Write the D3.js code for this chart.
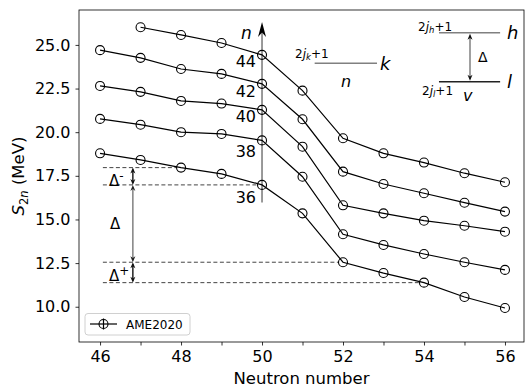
<!DOCTYPE html>
<html>
<head>
<meta charset="utf-8">
<script src="https://cdn.jsdelivr.net/npm/d3@7"></script>
<style>
  body { margin: 0; background: #fff; }
  svg text { font-family: "DejaVu Sans", sans-serif; fill: #000; }
</style>
</head>
<body>
<svg id="chart" width="525" height="388"></svg>
<script>
// neutron numbers on the x axis
const neutrons = [46, 47, 48, 49, 50, 51, 52, 53, 54, 55, 56];
// proton number of each isotopic chain
const chains = [36, 38, 40, 42, 44];
// two-neutron separation energies (MeV), AME2020
const s2n36 = [18.79, 18.41, 17.97, 17.61, 16.98, 15.35, 12.55, 11.93, 11.38, 10.56, 9.93];
const s2n38 = [20.76, 20.43, 20.00, 19.90, 19.53, 17.45, 14.15, 13.54, 13.02, 12.55, 12.11];
const s2n40 = [22.65, 22.31, 21.79, 21.64, 21.28, 19.17, 15.81, 15.35, 14.93, 14.64, 14.30];
const s2n42 = [24.70, 24.26, 23.62, 23.34, 22.77, 20.74, 17.74, 17.03, 16.50, 15.96, 15.45];
const s2n44 = [null, 26.01, 25.57, 25.11, 24.43, 22.38, 19.65, 18.79, 18.26, 17.65, 17.13];
const xTickLabels = [46, 48, 50, 52, 54, 56];
const yTickLabels = [10.0, 12.5, 15.0, 17.5, 20.0, 22.5, 25.0];

const series = [s2n36, s2n38, s2n40, s2n42, s2n44];

const svg = d3.select("#chart");
const pLeft = 79, pRight = 524, pTop = 10, pBottom = 342;

const x = d3.scaleLinear().domain([45.48, 56.47]).range([pLeft, pRight]);
const y = d3.scaleLinear().domain([7.98, 27.0]).range([pBottom, pTop]);

// axes
const xAxis = svg.append("g")
  .attr("transform", "translate(0," + pBottom + ")")
  .call(d3.axisBottom(x).tickValues(neutrons).tickSize(3.5).tickPadding(5)
    .tickFormat(d => xTickLabels.includes(d) ? d : ""));
const yAxis = svg.append("g")
  .attr("transform", "translate(" + pLeft + ",0)")
  .call(d3.axisLeft(y).tickValues(yTickLabels).tickSize(3.5).tickPadding(5)
    .tickFormat(d3.format(".1f")));
[xAxis, yAxis].forEach(g => {
  g.select(".domain").remove();
  g.selectAll("line").attr("stroke", "#000").attr("stroke-width", 0.8);
  g.selectAll("text").attr("font-size", 16).attr("font-family", "DejaVu Sans").attr("fill", "#000");
});

svg.append("rect")
  .attr("x", pLeft).attr("y", pTop)
  .attr("width", pRight - pLeft).attr("height", pBottom - pTop)
  .attr("fill", "none").attr("stroke", "#000").attr("stroke-width", 0.8);

// axis titles
svg.append("text")
  .attr("x", (pLeft + pRight) / 2).attr("y", 384)
  .attr("text-anchor", "middle").attr("font-size", 16.5)
  .text("Neutron number");

const yl = svg.append("text")
  .attr("transform", "translate(24," + ((pTop + pBottom) / 2) + ") rotate(-90)")
  .attr("text-anchor", "middle").attr("font-size", 16.5);
yl.append("tspan").attr("font-style", "italic").text("S");
yl.append("tspan").attr("font-size", 11.5).attr("dy", 4).text("2");
yl.append("tspan").attr("font-size", 11.5).attr("font-style", "italic").text("n");
yl.append("tspan").attr("dy", -4).text(" (MeV)");

// helpers for arrowheads
function head(g, px, py, dir, len, wid, color) {
  // dir = -1 points up, +1 points down
  const b = py - dir * len;
  g.append("path")
    .attr("d", "M" + px + "," + py +
      "L" + (px - wid / 2) + "," + b +
      "L" + px + "," + (py - dir * len * 0.7) +
      "L" + (px + wid / 2) + "," + b + "Z")
    .attr("fill", color);
}
function dblArrow(g, px, y1, y2, lineColor, headColor) {
  g.append("line").attr("x1", px).attr("x2", px)
    .attr("y1", y1 + 2).attr("y2", y2 - 2)
    .attr("stroke", lineColor).attr("stroke-width", 1.5);
  head(g, px, y1, -1, 6, 5, headColor);
  head(g, px, y2, 1, 6, 5, headColor);
}

const ann = svg.append("g");

// dashed reference levels
const dashFrom = 46.07;
const dashLevels = [[s2n36[2], 48], [s2n36[4], 50], [s2n36[6], 52], [s2n36[8], 54]];
dashLevels.forEach(([v, n]) => {
  ann.append("line")
    .attr("x1", x(dashFrom)).attr("x2", x(n) - 4)
    .attr("y1", y(v)).attr("y2", y(v))
    .attr("stroke", "#444").attr("stroke-width", 1).attr("stroke-dasharray", "4,2.5");
});

// gap arrows
const ax = x(46.81);
dblArrow(ann, ax, y(s2n36[2]), y(s2n36[4]), "#222", "#111");
dblArrow(ann, ax, y(s2n36[4]), y(s2n36[6]), "#808080", "#222");
dblArrow(ann, ax, y(s2n36[6]), y(s2n36[8]), "#222", "#111");

function deltaLabel(px, py, sup) {
  const t = ann.append("text").attr("x", px).attr("y", py).attr("font-size", 15);
  t.append("tspan").text("Δ");
  if (sup) t.append("tspan").attr("font-size", 12).attr("dy", -6).text(sup);
}
deltaLabel(109, 186, "-");
deltaLabel(110, 229, null);
deltaLabel(109, 281, "+");

// vertical arrow at N = 50
const x50 = x(50);
ann.append("line").attr("x1", x50).attr("x2", x50)
  .attr("y1", y(15.97)).attr("y2", 32)
  .attr("stroke", "#808080").attr("stroke-width", 1.6);
head(ann, x50, 22, -1, 15, 8, "#000");
ann.append("text").attr("x", 241).attr("y", 39)
  .attr("font-size", 17).attr("font-style", "italic").text("n");

// proton-number labels below N = 50 points
const labelDrop = [18, 16.5, 12.5, 13.5, 12.5];
chains.forEach((z, i) => {
  ann.append("text")
    .attr("x", x50 - 6).attr("y", y(series[i][4]) + labelDrop[i])
    .attr("text-anchor", "end").attr("font-size", 16)
    .text(z);
});

// data lines and markers
const line = d3.line()
  .defined(d => d[1] != null)
  .x(d => x(d[0])).y(d => y(d[1]));
const plot = svg.append("g");
series.forEach(s => {
  const pts = neutrons.map((n, i) => [n, s[i]]);
  plot.append("path").datum(pts)
    .attr("d", line).attr("fill", "none")
    .attr("stroke", "#000").attr("stroke-width", 1.2);
  plot.selectAll(null).data(pts.filter(d => d[1] != null)).enter()
    .append("circle")
    .attr("cx", d => x(d[0])).attr("cy", d => y(d[1])).attr("r", 4.5)
    .attr("fill", "none").attr("stroke", "#000").attr("stroke-width", 1.1);
});

// level scheme inset: k
function jLabel(g, px, py, sub) {
  const t = g.append("text").attr("x", px).attr("y", py).attr("font-size", 12);
  t.append("tspan").text("2");
  t.append("tspan").attr("font-style", "italic").text("j");
  t.append("tspan").attr("font-style", "italic").attr("font-size", 8.5).attr("dy", 2).text(sub);
  t.append("tspan").attr("dy", -2).text("+1");
}
const ins = svg.append("g");
ins.append("line").attr("x1", x(51.3)).attr("x2", x(52.84))
  .attr("y1", y(23.95)).attr("y2", y(23.95))
  .attr("stroke", "#808080").attr("stroke-width", 1.5);
jLabel(ins, 295, 58, "k");
ins.append("text").attr("x", 380).attr("y", 70).attr("font-size", 18).attr("font-style", "italic").text("k");
ins.append("text").attr("x", 341).attr("y", 87).attr("font-size", 16).attr("font-style", "italic").text("n");

// level scheme inset: h / l
ins.append("line").attr("x1", x(54.37)).attr("x2", x(55.88))
  .attr("y1", y(25.7)).attr("y2", y(25.7))
  .attr("stroke", "#808080").attr("stroke-width", 1.5);
ins.append("line").attr("x1", x(54.37)).attr("x2", x(55.88))
  .attr("y1", y(22.89)).attr("y2", y(22.89))
  .attr("stroke", "#222").attr("stroke-width", 1.5);
dblArrow(ins, 470, y(25.7) + 1, y(22.89) - 1, "#808080", "#111");
ins.append("text").attr("x", 478).attr("y", 62).attr("font-size", 14).text("Δ");
jLabel(ins, 418, 31, "h");
jLabel(ins, 422, 95, "l");
ins.append("text").attr("x", 507).attr("y", 39).attr("font-size", 18).attr("font-style", "italic").text("h");
ins.append("text").attr("x", 507).attr("y", 88).attr("font-size", 18).attr("font-style", "italic").text("l");
ins.append("text").attr("x", 463).attr("y", 101).attr("font-size", 16).attr("font-style", "italic").text("v");

// legend
const lg = svg.append("g");
lg.append("rect").attr("x", 85).attr("y", 313.5).attr("width", 105).attr("height", 21.5)
  .attr("rx", 3).attr("fill", "#fff").attr("fill-opacity", 0.8)
  .attr("stroke", "#d0d0d0").attr("stroke-width", 1);
lg.append("line").attr("x1", 90).attr("x2", 117).attr("y1", 324).attr("y2", 324)
  .attr("stroke", "#000").attr("stroke-width", 1.2);
lg.append("line").attr("x1", 103.5).attr("x2", 103.5).attr("y1", 318.5).attr("y2", 329.5)
  .attr("stroke", "#000").attr("stroke-width", 1.2);
lg.append("circle").attr("cx", 103.5).attr("cy", 324).attr("r", 4.5)
  .attr("fill", "none").attr("stroke", "#000").attr("stroke-width", 1.1);
lg.append("text").attr("x", 126).attr("y", 328.5).attr("font-size", 12).text("AME2020");
</script>
</body>
</html>
